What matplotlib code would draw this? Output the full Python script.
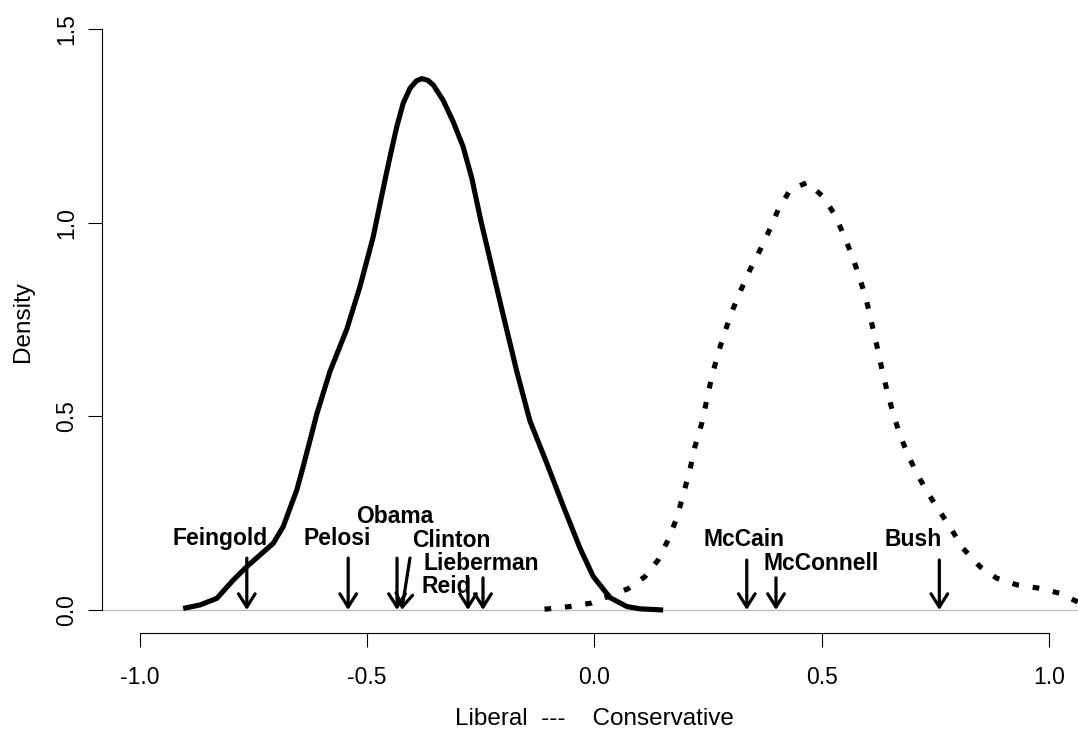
import numpy as np
import matplotlib
matplotlib.use("Agg")
from matplotlib import pyplot as plt

# density of the Democrats (solid curve)
dem_x = [-0.905, -0.868, -0.831, -0.795, -0.765, -0.736, -0.707, -0.685, -0.655,
         -0.641, -0.611, -0.582, -0.545, -0.516, -0.487, -0.461, -0.450, -0.435,
         -0.421, -0.406, -0.392, -0.380, -0.367, -0.355, -0.333, -0.311, -0.289,
         -0.270, -0.250, -0.223, -0.201, -0.171, -0.142, -0.105, -0.069, -0.032,
         -0.003, 0.034, 0.071, 0.100, 0.151]
dem_y = [0.004, 0.013, 0.030, 0.077, 0.112, 0.142, 0.172, 0.215, 0.310,
         0.370, 0.506, 0.616, 0.725, 0.835, 0.963, 1.110, 1.170, 1.248,
         1.308, 1.347, 1.366, 1.372, 1.368, 1.356, 1.316, 1.261, 1.196,
         1.115, 1.005, 0.871, 0.762, 0.616, 0.488, 0.379, 0.269, 0.160,
         0.087, 0.032, 0.009, 0.003, 0.000]

# density of the Republicans (dotted curve)
rep_x = [-0.110, -0.054, -0.006, 0.074, 0.111, 0.140, 0.162, 0.181, 0.195,
         0.209, 0.221, 0.236, 0.247, 0.258, 0.272, 0.287, 0.304, 0.322,
         0.342, 0.364, 0.385, 0.404, 0.430, 0.468, 0.503, 0.529, 0.547,
         0.566, 0.584, 0.599, 0.610, 0.621, 0.632, 0.644, 0.657, 0.672,
         0.690, 0.709, 0.734, 0.760, 0.786, 0.811, 0.848, 0.885, 0.929,
         0.980, 1.024, 1.061, 1.080]
rep_y = [0.002, 0.009, 0.018, 0.055, 0.086, 0.129, 0.181, 0.237, 0.297,
         0.357, 0.422, 0.482, 0.542, 0.602, 0.663, 0.719, 0.775, 0.826,
         0.878, 0.929, 0.981, 1.033, 1.084, 1.104, 1.067, 1.020, 0.972,
         0.917, 0.856, 0.796, 0.740, 0.684, 0.624, 0.564, 0.508, 0.452,
         0.400, 0.353, 0.301, 0.254, 0.207, 0.159, 0.112, 0.082, 0.065,
         0.056, 0.043, 0.022, 0.010]

# legislators: arrow tail / head and label
names = ['Feingold', 'Pelosi', 'Obama', 'Clinton', 'Lieberman', 'Reid',
         'McCain', 'McConnell', 'Bush']
arrow_tail_x = [-0.765, -0.542, -0.4345, -0.406, -0.2453, -0.2783, 0.335, 0.3993, 0.7587]
arrow_head_x = [-0.765, -0.542, -0.4345, -0.424, -0.2453, -0.2783, 0.335, 0.3993, 0.7587]
arrow_tail_y = [0.134, 0.134, 0.134, 0.134, 0.083, 0.083, 0.129, 0.083, 0.129]
label_x = [-0.824, -0.5655, -0.4389, -0.3142, -0.2482, -0.3252, 0.3296, 0.4983, 0.7015]
label_y = [0.168, 0.168, 0.225, 0.163, 0.103, 0.044, 0.165, 0.103, 0.165]

x_ticks = [-1.0, -0.5, 0.0, 0.5, 1.0]
x_tick_labels = ['-1.0', '-0.5', '0.0', '0.5', '1.0']
y_ticks = [0.0, 0.5, 1.0, 1.5]
y_tick_labels = ['0.0', '0.5', '1.0', '1.5']

plt.rcParams.update({'font.family': ['Liberation Sans', 'DejaVu Sans']})

W, H = 1078, 736
fig = plt.figure(figsize=(W / 100, H / 100), dpi=100)
# axes box in pixels: x 102..1078, y 0..633 (from top)
ax = fig.add_axes([102 / W, (H - 633) / H, (W - 102) / W, 633 / H])
ax.set_xlim(-1.0836, 1.0638)
ax.set_ylim(-0.0594, 1.575)

# zero line
ax.axhline(0, color='#bebebe', lw=1.0, zorder=1)

ax.plot(dem_x, dem_y, color='black', lw=3.7, solid_capstyle='butt',
        solid_joinstyle='round', zorder=3)
ax.plot(rep_x, rep_y, color='black', lw=3.7, linestyle=(0, (1.3, 2.7)),
        dash_capstyle='butt', zorder=3)

for i in range(len(names)):
    ax.annotate('', xy=(arrow_head_x[i], 0.0), xytext=(arrow_tail_x[i], arrow_tail_y[i]),
                arrowprops=dict(arrowstyle='->,head_length=0.95,head_width=0.6',
                                mutation_scale=10, lw=2.3, color='black',
                                shrinkA=0, shrinkB=0),
                zorder=4)
    ax.text(label_x[i], label_y[i], names[i], ha='center', va='baseline',
            fontsize=16.5, fontweight='bold', zorder=5)

# R style axes
for spine in ['right', 'top']:
    ax.spines[spine].set_visible(False)
ax.spines['left'].set_bounds(0, 1.5)
ax.spines['bottom'].set_bounds(-1, 1)
for spine in ['left', 'bottom']:
    ax.spines[spine].set_linewidth(0.8)
ax.set_xticks(x_ticks, x_tick_labels)
ax.set_yticks(y_ticks, y_tick_labels)
ax.tick_params(axis='both', length=10, width=0.8, labelsize=16.5)
ax.tick_params(axis='x', pad=14)
ax.tick_params(axis='y', pad=7)
for lab in ax.get_yticklabels():
    lab.set_rotation(90)
    lab.set_va('center')

fig.text(594 / W, 1 - 719 / H, 'Liberal  ---    Conservative', ha='center', va='center',
         fontsize=17.5)
fig.text(23 / W, 1 - 322 / H, 'Density', ha='center', va='center', rotation=90,
         fontsize=17.5)

plt.savefig('out.png', dpi=100)
